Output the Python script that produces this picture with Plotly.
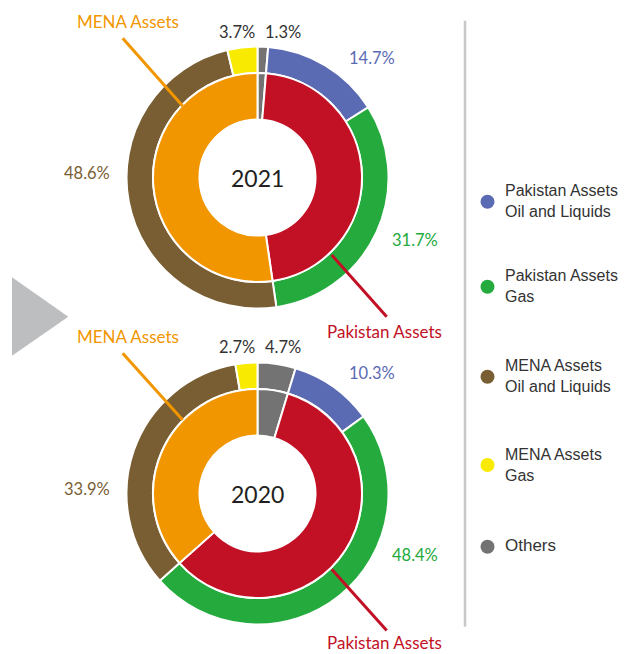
import plotly.graph_objects as go

W, H = 627, 654

# outer ring: product split, inner ring: asset split
outer_labels = ["Others", "Pakistan Assets Oil and Liquids", "Pakistan Assets Gas",
                "MENA Assets Oil and Liquids", "MENA Assets Gas"]
outer_2021 = [1.3, 14.7, 31.7, 48.6, 3.7]
outer_2020 = [4.7, 10.3, 48.4, 33.9, 2.7]

inner_labels = ["Others", "Pakistan Assets", "MENA Assets"]
inner_2021 = [1.3, 46.4, 52.3]
inner_2020 = [4.7, 58.7, 36.6]

years = ["2021", "2020"]

outer_colors = ["#737373", "#5B6BB3", "#24AA3D", "#7A5E33", "#F8EA00"]
inner_colors = ["#737373", "#C21025", "#F29600"]

legend_lines = [("Pakistan Assets", "Oil and Liquids"), ("Pakistan Assets", "Gas"),
                ("MENA Assets", "Oil and Liquids"), ("MENA Assets", "Gas"), ("Others", None)]
legend_colors = ["#5B6BB3", "#24AA3D", "#7A5E33", "#F8EA00", "#737373"]


def px(x):
    return x / W


def py(y):
    return 1 - y / H


def domain(cx, cy, r):
    return dict(x=[px(cx - r), px(cx + r)], y=[py(cy + r), py(cy - r)])


fig = go.Figure()

cx = 257.5
centers = [177.5, 493.5]
outer_sets = [outer_2021, outer_2020]
inner_sets = [inner_2021, inner_2020]

for cy, ov, iv in zip(centers, outer_sets, inner_sets):
    fig.add_trace(go.Pie(
        labels=outer_labels, values=ov, sort=False, direction="clockwise", rotation=0,
        hole=104.5 / 131, domain=domain(cx, cy, 131), textinfo="none", showlegend=False,
        marker=dict(colors=outer_colors, line=dict(color="white", width=2))))
    fig.add_trace(go.Pie(
        labels=inner_labels, values=iv, sort=False, direction="clockwise", rotation=0,
        hole=58 / 104.5, domain=domain(cx, cy, 104.5), textinfo="none", showlegend=False,
        marker=dict(colors=inner_colors, line=dict(color="white", width=2))))

shapes = []
annotations = []

lab_font = "Lato, Open Sans, sans-serif"


def label(x, y, text, color, size=16.5, anchor="center", family=lab_font):
    annotations.append(dict(x=px(x), y=py(y), xref="paper", yref="paper", text=text,
                            showarrow=False, xanchor=anchor, yanchor="middle", borderpad=0,
                            align=anchor if anchor != "center" else "center",
                            font=dict(family=family, size=size, color=color)))


def line(x0, y0, x1, y1, color, width=3):
    shapes.append(dict(type="line", xref="paper", yref="paper", x0=px(x0), y0=py(y0),
                       x1=px(x1), y1=py(y1), line=dict(color=color, width=width)))


# percentage labels around each donut
for i, (ov, cy) in enumerate(zip(outer_sets, centers)):
    top = 31.7 if i == 0 else 346.7
    label(236.7, top, f"{ov[4]}%", "#333333")
    label(283, top, f"{ov[0]}%", "#333333")
    label(371.7, 58 if i == 0 else 373.3, f"{ov[1]}%", "#5B6BB3")
    label(87, 173 if i == 0 else 489.3, f"{ov[3]}%", "#7A5E33")
    label(415, 240 if i == 0 else 555, f"{ov[2]}%", "#24AA3D")
    label(257, cy, years[i], "#231F20", size=23)

# callouts
label(127.5, 21.7, "MENA Assets", "#F29600", size=17)
line(122.7, 38.3, 182.7, 106, "#F29600")
label(384.5, 331.7, "Pakistan Assets", "#C21025", size=17)
line(331.7, 255, 386.7, 316.7, "#C21025")

label(127.5, 336.7, "MENA Assets", "#F29600", size=17)
line(122.7, 353.3, 182.7, 420, "#F29600")
label(384.5, 642.5, "Pakistan Assets", "#C21025", size=17)
line(331.7, 569.3, 386.7, 630.5, "#C21025")

# separator and arrow
line(465, 20.7, 465, 626.7, "#C8C8C8", width=2.5)
shapes.append(dict(type="path", xref="paper", yref="paper",
                   path=f"M {px(12)} {py(277.3)} L {px(68.3)} {py(316.7)} L {px(12)} {py(355.7)} Z",
                   fillcolor="#BDBEC0", line=dict(width=0)))

# legend, two-line entries as one text each
leg_y = [201.7, 286.7, 376.7, 465, 546.7]
leg_font = "Liberation Sans, Arial, sans-serif"
for (l1, l2), col, yy in zip(legend_lines, legend_colors, leg_y):
    shapes.append(dict(type="circle", xref="paper", yref="paper",
                       x0=px(480.5), x1=px(494.5), y0=py(yy + 7), y1=py(yy - 7),
                       fillcolor=col, line=dict(width=0)))
    if l2 is None:
        label(504, yy - 1, l1, "#333333", size=17, anchor="left", family=leg_font)
    else:
        label(504, yy - 0.5, f"{l1}<br>{l2}", "#333333", size=16, anchor="left",
              family=leg_font)

fig.update_layout(
    width=W, height=H, margin=dict(l=0, r=0, t=0, b=0),
    paper_bgcolor="white", plot_bgcolor="white",
    shapes=shapes, annotations=annotations, showlegend=False)

fig.write_html("out.html", config={"displayModeBar": False},
               post_script="document.body.style.margin='0';")
